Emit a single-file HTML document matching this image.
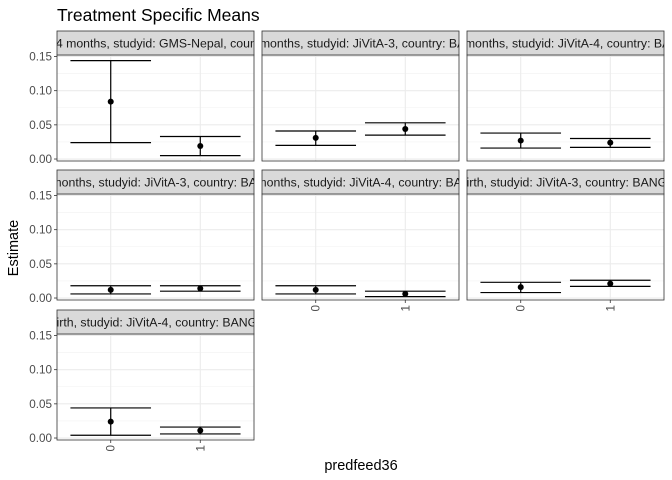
<!DOCTYPE html>
<html><head><meta charset="utf-8"><style>
body{margin:0;background:#fff;}
svg{display:block;font-family:"Liberation Sans",sans-serif;}
</style></head><body>
<svg id="chart" width="672" height="480" viewBox="0 0 672 480">
<rect width="672" height="480" fill="#fff"/>
<text x="57" y="21" font-size="17.5" fill="#000">Treatment Specific Means</text>
<text transform="translate(18,248) rotate(-90)" text-anchor="middle" font-size="14.5" fill="#000">Estimate</text>
<text x="361" y="470" text-anchor="middle" font-size="14.5" fill="#000">predfeed36</text>
<g id="panels"></g>
</svg>
<script>
const categories = ["0", "1"];
const panelLabels = [
 "agecat: 0-24 months, studyid: GMS-Nepal, country: NEPAL",
 "agecat: 0-24 months, studyid: JiVitA-3, country: BANGLADESH",
 "agecat: 0-24 months, studyid: JiVitA-4, country: BANGLADESH",
 "agecat: 0-6 months, studyid: JiVitA-3, country: BANGLADESH",
 "agecat: 0-6 months, studyid: JiVitA-4, country: BANGLADESH",
 "agecat: Birth, studyid: JiVitA-3, country: BANGLADESH",
 "agecat: Birth, studyid: JiVitA-4, country: BANGLADESH"
];
const estimates = [[0.084,0.019],[0.031,0.044],[0.027,0.024],[0.012,0.014],[0.012,0.006],[0.016,0.021],[0.024,0.011]];
const lowers = [[0.024,0.005],[0.020,0.035],[0.016,0.017],[0.006,0.010],[0.006,0.002],[0.008,0.017],[0.004,0.006]];
const uppers = [[0.144,0.033],[0.041,0.053],[0.038,0.030],[0.018,0.018],[0.018,0.010],[0.023,0.026],[0.044,0.016]];
const yTicks = [0, 0.05, 0.10, 0.15];
const yTickLabels = ["0.00", "0.05", "0.10", "0.15"];
const yMinor = [0.025, 0.075, 0.125];

const NS = "http://www.w3.org/2000/svg";
const root = document.getElementById("panels");
const colX = [57, 262, 467], panelW = 197;
const rowY = [31, 170, 310], stripH = 24, panelH = 106;
const yMin = -0.0029, yMax = 0.1522;
function mk(tag, attrs, parent){const e=document.createElementNS(NS,tag);for(const k in attrs)e.setAttribute(k,attrs[k]);parent.appendChild(e);return e;}
function yScale(v, top){return top + panelH - (v - yMin) / (yMax - yMin) * panelH;}
function xScale(i, left){const lo=-0.6, hi=categories.length-1+0.6;return left + (i - lo) / (hi - lo) * panelW;}

panelLabels.forEach((lab, p) => {
  const r = Math.floor(p/3), c = p%3;
  const left = colX[c], top = rowY[r] + stripH;
  const g = mk("g", {}, root);
  
  
  mk("rect", {x:left, y:top, width:panelW, height:panelH, fill:"#fff"}, g);
  yMinor.forEach(v => { mk("line", {x1:left, x2:left+panelW, y1:yScale(v,top), y2:yScale(v,top), stroke:"#f2f2f2", "stroke-width":0.6}, g); });
  yTicks.forEach(v => { mk("line", {x1:left, x2:left+panelW, y1:yScale(v,top), y2:yScale(v,top), stroke:"#ebebeb", "stroke-width":1.1}, g); });
  categories.forEach((cat,i) => { mk("line", {x1:xScale(i,left), x2:xScale(i,left), y1:top, y2:top+panelH, stroke:"#ebebeb", "stroke-width":1.1}, g); });
  categories.forEach((cat,i) => {
    const x = xScale(i,left), hw = 0.45 * (xScale(1,left)-xScale(0,left));
    const yl = yScale(lowers[p][i],top), yu = yScale(uppers[p][i],top), ye = yScale(estimates[p][i],top);
    const eb = mk("g", {stroke:"#000", "stroke-width":1.2}, g);
    
    
    mk("line", {x1:x-hw, x2:x+hw, y1:yu, y2:yu}, eb);
    mk("line", {x1:x-hw, x2:x+hw, y1:yl, y2:yl}, eb);
    mk("line", {x1:x, x2:x, y1:yu, y2:yl}, eb);
    const pt = mk("circle", {cx:x, cy:ye, r:3, fill:"#000"}, g);
    
    
  });
  mk("rect", {x:left, y:top, width:panelW, height:panelH, fill:"none", stroke:"#333", "stroke-width":0.8}, g);
  const clipId = "clip" + p;
  const cp = mk("clipPath", {id:clipId}, g);
  mk("rect", {x:left, y:rowY[r], width:panelW, height:stripH}, cp);
  const st = mk("rect", {x:left, y:rowY[r], width:panelW, height:stripH, fill:"#d9d9d9", stroke:"#333", "stroke-width":0.8}, g);
  
  
  const tx = mk("text", {x:left+panelW/2, y:rowY[r]+16.5, "text-anchor":"middle", "font-size":12.3, fill:"#1a1a1a", "clip-path":"url(#"+clipId+")"}, g);
  
  
  tx.textContent = lab;
  if (c === 0) {
    yTicks.forEach((v,k) => {
      const y = yScale(v,top);
      mk("line", {x1:left-3, x2:left, y1:y, y2:y, stroke:"#333", "stroke-width":0.8}, g);
      const t = mk("text", {x:left-5, y:y+4, "text-anchor":"end", "font-size":11.7, fill:"#4d4d4d"}, g);
      
      
      t.textContent = yTickLabels[k];
    });
  }
  const bottom = (c === 0 && r === 2) || (c > 0 && r === 1);
  if (bottom) {
    categories.forEach((cat,i) => {
      const x = xScale(i,left), yb = top+panelH;
      mk("line", {x1:x, x2:x, y1:yb, y2:yb+3, stroke:"#333", "stroke-width":0.8}, g);
      const t = mk("text", {transform:"translate("+(x+4)+","+(yb+5)+") rotate(-90)", "text-anchor":"end", "font-size":11.7, fill:"#4d4d4d"}, g);
      
      
      t.textContent = cat;
    });
  }
});
</script>
</body></html>
